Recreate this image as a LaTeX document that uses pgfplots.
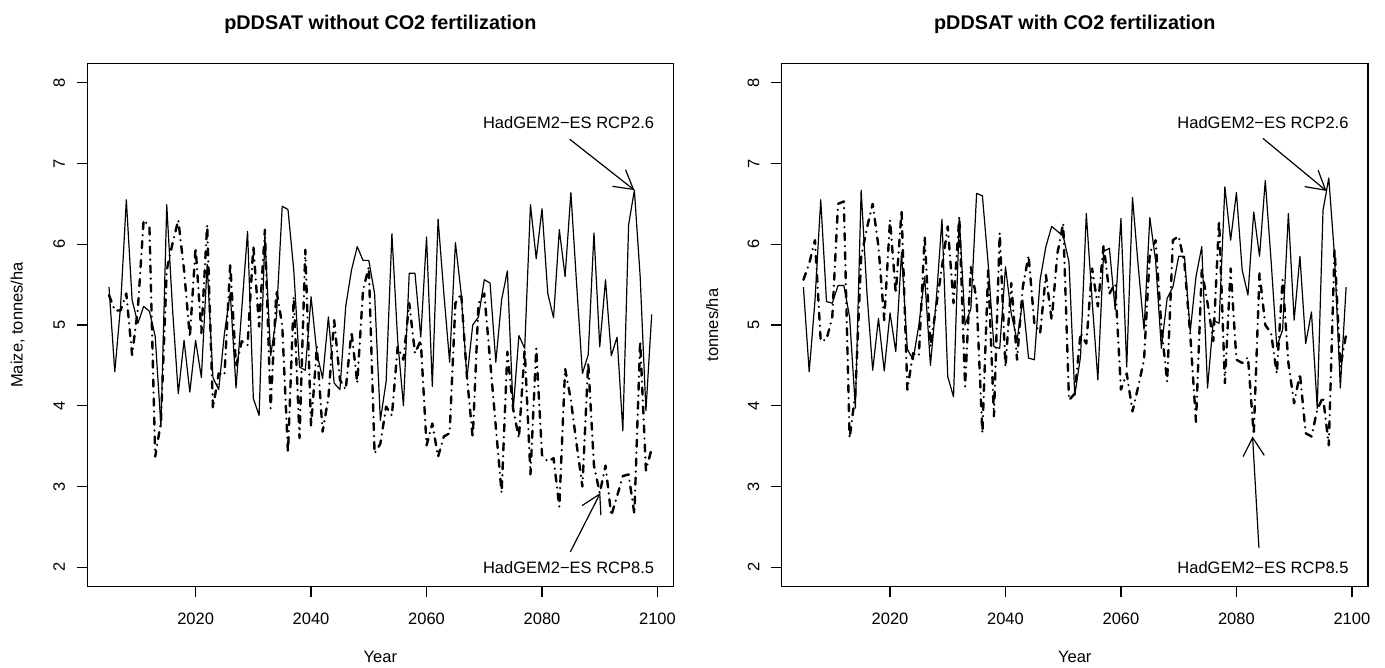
\documentclass[border=0pt]{standalone}
\usepackage{fontspec}
\setmainfont{Liberation Sans}
\usepackage{pgfplots}
\usepackage{pgfplotstable}
\pgfplotsset{compat=1.18}
\usetikzlibrary{arrows.meta}

% columns: year, HadGEM2-ES RCP2.6, HadGEM2-ES RCP8.5
\pgfplotstableread{
year rcp26 rcp85
2005 5.47 5.37
2006 4.42 5.18
2007 5.23 5.18
2008 6.55 5.39
2009 5.31 4.63
2010 5.02 5.20
2011 5.23 6.30
2012 5.17 6.22
2013 4.86 3.37
2014 3.74 3.80
2015 6.49 5.68
2016 5.20 6.01
2017 4.15 6.30
2018 4.81 5.68
2019 4.17 4.85
2020 4.81 5.96
2021 4.35 4.90
2022 5.75 6.24
2023 4.35 3.97
2024 4.20 4.40
2025 4.90 4.38
2026 5.40 5.76
2027 4.22 4.48
2028 5.20 4.80
2029 6.16 4.75
2030 4.09 5.98
2031 3.88 4.98
2032 6.10 6.18
2033 4.62 3.97
2034 5.10 5.43
2035 6.47 5.00
2036 6.43 3.41
2037 5.68 5.35
2038 4.48 3.60
2039 4.44 5.93
2040 5.35 3.74
2041 4.65 4.73
2042 4.34 3.68
2043 5.10 4.10
2044 4.28 5.06
2045 4.20 4.32
2046 5.23 4.20
2047 5.68 4.92
2048 5.97 4.28
2049 5.80 5.43
2050 5.80 5.72
2051 5.39 3.41
2052 3.82 3.53
2053 4.30 3.99
2054 6.13 3.88
2055 4.81 4.73
2056 4.00 4.57
2057 5.64 5.27
2058 5.64 4.65
2059 4.85 4.81
2060 6.09 3.51
2061 4.24 3.78
2062 6.31 3.37
2063 5.39 3.62
2064 4.54 3.66
2065 6.02 5.27
2066 5.39 5.39
2067 4.34 4.36
2068 5.00 3.60
2069 5.10 5.27
2070 5.56 5.39
2071 5.52 4.57
2072 4.54 3.74
2073 5.31 2.92
2074 5.67 4.67
2075 3.94 3.96
2076 4.87 3.60
2077 4.71 4.70
2078 6.49 3.15
2079 5.82 4.71
2080 6.44 3.39
2081 5.39 3.31
2082 5.09 3.35
2083 6.18 2.75
2084 5.60 4.46
2085 6.64 4.07
2086 5.50 3.52
2087 4.40 3.00
2088 4.63 4.54
2089 6.14 3.26
2090 4.73 2.92
2091 5.56 3.26
2092 4.62 2.64
2093 4.85 2.88
2094 3.69 3.13
2095 6.24 3.15
2096 6.67 2.66
2097 5.60 4.80
2098 3.94 3.20
2099 5.13 3.47
}\noco

\pgfplotstableread{
year rcp26 rcp85
2005 5.47 5.56
2006 4.42 5.76
2007 5.30 6.05
2008 6.55 4.80
2009 5.29 4.82
2010 5.27 5.10
2011 5.49 6.50
2012 5.49 6.53
2013 5.10 3.60
2014 3.97 4.15
2015 6.67 5.84
2016 5.40 6.20
2017 4.44 6.50
2018 5.08 5.97
2019 4.43 5.06
2020 5.15 6.30
2021 4.67 5.39
2022 5.90 6.42
2023 4.70 4.20
2024 4.57 4.65
2025 5.00 4.62
2026 5.60 6.10
2027 4.50 4.73
2028 5.30 5.23
2029 6.31 5.72
2030 4.36 6.22
2031 4.11 5.27
2032 6.33 6.34
2033 5.00 4.24
2034 5.20 5.72
2035 6.63 5.31
2036 6.60 3.66
2037 5.76 5.68
2038 4.73 3.87
2039 4.71 6.14
2040 5.72 4.48
2041 5.14 5.52
2042 4.81 4.57
2043 5.31 5.47
2044 4.59 5.86
2045 4.57 5.02
2046 5.56 4.90
2047 5.97 5.62
2048 6.22 5.06
2049 6.16 5.89
2050 6.10 6.26
2051 5.78 4.07
2052 4.13 4.15
2053 4.61 4.90
2054 6.38 4.77
2055 5.31 5.70
2056 4.32 5.23
2057 5.91 5.99
2058 5.95 5.39
2059 5.19 5.51
2060 6.32 4.20
2061 4.48 4.40
2062 6.58 3.93
2063 5.72 4.24
2064 4.94 4.57
2065 6.33 5.89
2066 5.80 6.05
2067 4.71 4.98
2068 5.33 4.30
2069 5.47 6.05
2070 5.85 6.10
2071 5.85 5.76
2072 4.92 4.88
2073 5.60 3.80
2074 5.97 5.68
2075 4.22 5.27
2076 5.06 4.80
2077 5.02 6.30
2078 6.71 4.28
2079 6.05 5.70
2080 6.64 4.57
2081 5.68 4.53
2082 5.37 4.60
2083 6.40 3.64
2084 5.85 5.64
2085 6.79 5.00
2086 5.80 4.90
2087 4.73 4.40
2088 4.94 5.56
2089 6.38 4.53
2090 5.06 4.03
2091 5.85 4.40
2092 4.77 3.66
2093 5.16 3.62
2094 3.97 3.95
2095 6.42 4.11
2096 6.82 3.51
2097 5.85 5.95
2098 4.22 4.48
2099 5.47 4.88
}\withco

\tikzset{
  sol/.style={black, line width=0.6pt, line join=round},
  dd/.style={black, line width=1.2pt, line cap=round, line join=round,
    dash pattern=on 3.5pt off 3pt on 0pt off 3pt},
  note/.style={font=\fontsize{8.25}{10}\selectfont, inner sep=0pt},
  arr/.style={black, line width=0.6pt, -{Straight Barb[angle=60:10.6pt]}},
}

\pgfplotsset{
  rpanel/.style={
    scale only axis,
    width=293.05pt, height=261.7pt,
    xmin=2001.24, xmax=2102.76,
    ymin=1.76, ymax=8.24,
    xtick={2020,2040,...,2100},
    ytick={2,3,...,8},
    tick pos=left,
    tick align=outside,
    major tick length=5.3pt,
    every tick/.style={black, line width=0.65pt},
    axis line style={line width=0.7pt},
    /pgf/number format/1000 sep={},
    /pgf/number format/assume math mode=true,
    tick label style={font=\fontsize{8.25}{10}\selectfont, inner sep=0pt},
    xticklabel style={anchor=north, yshift=-7.8pt},
    yticklabel style={rotate=90, anchor=south, yshift=5.65pt},
    label style={font=\fontsize{8.25}{10}\selectfont},
    xlabel style={at={(axis description cs:0.5,0)}, anchor=center, yshift=-35.15pt},
    ylabel style={at={(axis description cs:-0.11875,0.5)}, anchor=center},
    title style={at={(axis description cs:0.5,1)}, anchor=center, yshift=13.7pt,
      font=\fontsize{9.9}{12}\bfseries\selectfont},
    xlabel={Year},
  },
}

\begin{document}
\begin{tikzpicture}
\path[use as bounding box] (0,0) rectangle (692.5pt,334pt);

\begin{axis}[rpanel, at={(43.65pt,40.65pt)},
  title={pDDSAT without CO2 fertilization},
  ylabel={Maize, tonnes/ha}]
  \addplot[sol] table[x=year, y=rcp26] {\noco};
  \addplot[dd] table[x=year, y=rcp85] {\noco};
  \node[note] at (axis cs:2084.6,7.5) {HadGEM2−ES RCP2.6};
  \draw[arr] (axis cs:2084.8,7.30) -- (axis cs:2096,6.67);
  \node[note] at (axis cs:2084.6,2.0) {HadGEM2−ES RCP8.5};
  \draw[arr] (axis cs:2084.9,2.19) -- (axis cs:2090.1,2.92);
\end{axis}

\begin{axis}[rpanel, at={(390.85pt,40.65pt)},
  title={pDDSAT with CO2 fertilization},
  ylabel={tonnes/ha}]
  \addplot[sol] table[x=year, y=rcp26] {\withco};
  \addplot[dd] table[x=year, y=rcp85] {\withco};
  \node[note] at (axis cs:2084.6,7.5) {HadGEM2−ES RCP2.6};
  \draw[arr] (axis cs:2084.6,7.31) -- (axis cs:2095.6,6.66);
  \node[note] at (axis cs:2084.6,2.0) {HadGEM2−ES RCP8.5};
  \draw[arr] (axis cs:2083.9,2.24) -- (axis cs:2082.8,3.62);
\end{axis}
\end{tikzpicture}
\end{document}
